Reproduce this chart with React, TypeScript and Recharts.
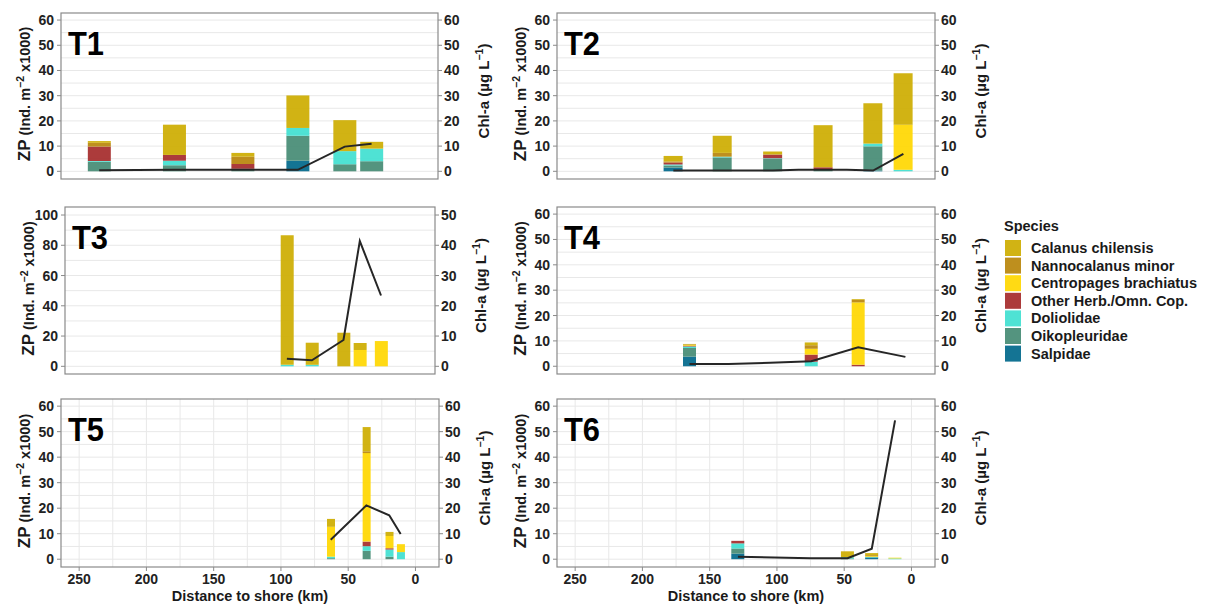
import React from 'react'
import { Bar, CartesianGrid, ComposedChart, Line, XAxis, YAxis } from 'recharts'

// legend order (top of stack first)
const species = ['Calanus chilensis', 'Nannocalanus minor', 'Centropages brachiatus', 'Other Herb./Omn. Cop.', 'Doliolidae', 'Oikopleuridae', 'Salpidae']
const speciesKeys = ['cal', 'nan', 'cen', 'oth', 'dol', 'oik', 'sal']
const speciesColors = ['#CDAD00', '#B8860B', '#FFD700', '#A52A2A', '#40E0D0', '#458B74', '#00688B']

const kmTicks = [0, 50, 100, 150, 200, 250]
const kmGrid = [0, 25, 50, 75, 100, 125, 150, 175, 200, 225, 250]
const zpTicks = [0, 10, 20, 30, 40, 50, 60]
const zpGrid = [0, 5, 10, 15, 20, 25, 30, 35, 40, 45, 50, 55, 60]
const t3ZpTicks = [0, 20, 40, 60, 80, 100]
const t3ZpGrid = [0, 10, 20, 30, 40, 50, 60, 70, 80, 90, 100]
const t3ChlTicks = [0, 10, 20, 30, 40, 50]

// zooplankton per station, columns in legend order: cal, nan, cen, oth, dol, oik, sal
const t1BarKm = [235, 179, 128, 87, 52, 32]
const t1Zp = [
  [0.7, 1.5, 0, 5.7, 0.3, 3.8, 0],
  [12.0, 0, 0, 2.3, 1.8, 2.4, 0],
  [1.5, 2.9, 0, 1.9, 0, 1.0, 0],
  [12.9, 0, 0, 0, 3.1, 9.9, 4.2],
  [12.3, 0, 0, 0, 5.2, 2.8, 0],
  [2.7, 0, 0, 0, 5.0, 4.0, 0],
]
const t1LineKm = [235, 179, 128, 87, 52, 32]
const t1Chl = [0.4, 0.6, 0.6, 0.6, 9.8, 10.9]

const t2BarKm = [177, 140.5, 103, 65.5, 28.5, 6]
const t2Zp = [
  [2.2, 0.4, 0, 0.8, 0.4, 0.8, 1.5],
  [6.8, 1.5, 0, 0, 0.3, 5.5, 0],
  [1.1, 0.2, 0, 1.4, 0.2, 5.0, 0],
  [16.7, 0, 0, 0.8, 0, 0.8, 0],
  [16.0, 0, 0, 0, 1.1, 9.6, 0.3],
  [20.4, 0, 17.9, 0, 0.6, 0, 0],
]
const t2LineKm = [177, 140.5, 103, 84, 65.5, 48, 28.5, 6]
const t2Chl = [0.3, 0.3, 0.3, 0.6, 0.6, 0.6, 0.3, 6.9]

const t3BarKm = [95, 76, 52, 39.6, 23.5]
const t3Zp = [
  [85.6, 0, 0, 0, 1.0, 0, 0],
  [14.6, 0, 0, 0, 1.0, 0, 0],
  [22.2, 0, 0, 0, 0, 0, 0],
  [4.6, 0, 10.8, 0, 0, 0, 0],
  [0, 0, 16.7, 0, 0, 0, 0],
]
const t3LineKm = [95, 76, 52, 39.6, 23.5]
const t3Chl = [2.5, 2.0, 8.7, 41.4, 23.4]

const t4BarKm = [165, 74.5, 39.6]
const t4Zp = [
  [0.2, 0.3, 0.3, 0.2, 0.6, 3.4, 3.8],
  [1.1, 1.4, 2.3, 2.8, 1.8, 0, 0],
  [0.3, 1.0, 24.6, 0.6, 0, 0, 0],
]
const t4LineKm = [165, 136, 105, 74.5, 39.6, 4.5]
const t4Chl = [0.9, 0.9, 1.4, 2.0, 7.5, 3.7]

const t5BarKm = [63, 36.5, 19.5, 11]
const t5Zp = [
  [3.1, 0, 11.7, 0, 0.6, 0.4, 0],
  [9.5, 0.7, 34.7, 1.8, 1.8, 3.3, 0],
  [1.6, 0, 4.8, 0.5, 2.8, 1.0, 0],
  [0, 0, 3.1, 0, 2.8, 0, 0],
]
const t5LineKm = [63, 36.5, 19.5, 11]
const t5Chl = [7.6, 21.1, 17.2, 9.9]

const t6BarKm = [129, 47.5, 29.5, 12.2]
const t6Zp = [
  [0, 0, 0, 1.0, 2.0, 2.0, 2.2],
  [2.3, 0, 0, 0, 0.5, 0.3, 0],
  [0.8, 0.4, 0.3, 0, 0.2, 0, 0.7],
  [0, 0, 0.3, 0, 0.3, 0, 0],
]
const t6LineKm = [129, 102, 75, 47.5, 29.5, 12.2]
const t6Chl = [1.0, 0.65, 0.4, 0.4, 4.1, 54.4]

type Row = { km: number; [k: string]: number }

function buildRows(barKm: number[], zp: number[][], lineKm: number[], chl: number[]) {
  const map = new Map<number, Row>()
  barKm.forEach((km, i) => {
    const r = map.get(km) ?? { km }
    speciesKeys.forEach((k, j) => (r[k] = zp[i][j]))
    map.set(km, r)
  })
  lineKm.forEach((km, i) => {
    const r = map.get(km) ?? { km }
    r.chl = chl[i]
    map.set(km, r)
  })
  return [...map.values()].sort((a, b) => b.km - a.km)
}

const FONT = '"Liberation Sans", Arial, Helvetica, sans-serif'
const AXW = 45
const TOP = 5
const XH = 30
const kmDomain = [-17.5, 263.5]
const stdZp = [-3.05, 62.8]
const tickStyle = { fontSize: 14, fontWeight: 'bold', fill: '#222', fontFamily: FONT }

const panels = [
  { name: 'T1', x: 61, y: 13, w: 377, h: 166, barSize: 23, rows: buildRows(t1BarKm, t1Zp, t1LineKm, t1Chl), zpDomain: stdZp, zpTicks, zpGrid, chlDomain: stdZp, chlTicks: zpTicks, showX: false },
  { name: 'T2', x: 557, y: 13, w: 378, h: 166, barSize: 19, rows: buildRows(t2BarKm, t2Zp, t2LineKm, t2Chl), zpDomain: stdZp, zpTicks, zpGrid, chlDomain: stdZp, chlTicks: zpTicks, showX: false },
  { name: 'T3', x: 65, y: 207, w: 370, h: 167, barSize: 13, rows: buildRows(t3BarKm, t3Zp, t3LineKm, t3Chl), zpDomain: [-5.08, 105.3], zpTicks: t3ZpTicks, zpGrid: t3ZpGrid, chlDomain: [-2.54, 52.65], chlTicks: t3ChlTicks, showX: false },
  { name: 'T4', x: 557, y: 207, w: 378, h: 167, barSize: 13, rows: buildRows(t4BarKm, t4Zp, t4LineKm, t4Chl), zpDomain: stdZp, zpTicks, zpGrid, chlDomain: stdZp, chlTicks: zpTicks, showX: false },
  { name: 'T5', x: 61, y: 399, w: 378, h: 168, barSize: 8, rows: buildRows(t5BarKm, t5Zp, t5LineKm, t5Chl), zpDomain: stdZp, zpTicks, zpGrid, chlDomain: stdZp, chlTicks: zpTicks, showX: true },
  { name: 'T6', x: 557, y: 399, w: 378, h: 168, barSize: 13, rows: buildRows(t6BarKm, t6Zp, t6LineKm, t6Chl), zpDomain: stdZp, zpTicks, zpGrid, chlDomain: stdZp, chlTicks: zpTicks, showX: true },
]

function Panel({ p }: { p: (typeof panels)[number] }) {
  const order = [...speciesKeys.keys()].reverse()
  return (
    <div style={{ position: 'absolute', left: p.x - AXW, top: p.y - TOP }}>
      <ComposedChart width={p.w + 2 * AXW} height={p.h + TOP + XH} data={p.rows} margin={{ top: TOP, right: 0, bottom: 0, left: 0 }}>
        <CartesianGrid stroke="#e8e8e8" horizontalValues={p.zpGrid} verticalValues={kmGrid} />
        <XAxis type="number" dataKey="km" domain={kmDomain} reversed allowDataOverflow ticks={kmTicks} interval={0} height={XH} axisLine={false} tickLine={{ stroke: '#8a8a8a' }} tickSize={4} tickMargin={3} tick={p.showX ? tickStyle : false} />
        <YAxis domain={p.zpDomain} allowDataOverflow ticks={p.zpTicks} interval={0} width={AXW} axisLine={false} tickLine={{ stroke: '#8a8a8a' }} tickSize={4} tickMargin={3} tick={tickStyle} />
        <YAxis yAxisId="chl" orientation="right" domain={p.chlDomain} allowDataOverflow ticks={p.chlTicks} interval={0} width={AXW} axisLine={false} tickLine={{ stroke: '#8a8a8a' }} tickSize={4} tickMargin={2} tick={tickStyle} />
        {order.map((i) => (
          <Bar key={speciesKeys[i]} dataKey={speciesKeys[i]} stackId="s" fill={speciesColors[i]} fillOpacity={0.92} barSize={p.barSize} isAnimationActive={false} />
        ))}
        <Line yAxisId="chl" dataKey="chl" type="linear" stroke="#262626" strokeWidth={2} dot={false} activeDot={false} connectNulls isAnimationActive={false} />
      </ComposedChart>
    </div>
  )
}

function Overlay() {
  const lbl = { fontFamily: FONT, fontWeight: 'bold' as const, fill: '#1a1a1a' }
  return (
    <svg width={1207} height={610} style={{ position: 'absolute', left: 0, top: 0, pointerEvents: 'none' }}>
      {panels.map((p) => {
        const cy = p.y + p.h / 2
        const lx = p.x - 36
        const rx = p.x + p.w + 46
        return (
          <g key={p.name}>
            <rect x={p.x} y={p.y} width={p.w} height={p.h} fill="none" stroke="#8a8a8a" strokeWidth={1.2} />
            <text x={p.x + 7} y={p.y + 42} fontSize={34} textLength={36} lengthAdjust="spacingAndGlyphs" fontFamily={FONT} fontWeight="bold" fill="#000">
              {p.name}
            </text>
            <text transform={`translate(${lx + 5},${cy - 2}) rotate(-90)`} textAnchor="middle" fontSize={14.5} {...lbl}>
              <tspan fontSize={17}>ZP</tspan>
              <tspan> (Ind. m</tspan>
              <tspan fontSize={10.5} dy={-6}>−2</tspan>
              <tspan dy={6}> x1000)</tspan>
            </text>
            <text transform={`translate(${rx + 5},${cy - 5}) rotate(-90)`} textAnchor="middle" fontSize={15} {...lbl}>
              <tspan>Chl-a (µg L</tspan>
              <tspan fontSize={10.5} dy={-6}>−1</tspan>
              <tspan dy={6}>)</tspan>
            </text>
            {p.showX && (
              <text x={p.x + p.w / 2} y={p.y + p.h + 34} textAnchor="middle" fontSize={14.5} {...lbl}>
                Distance to shore (km)
              </text>
            )}
          </g>
        )
      })}
      <text x={1004} y={231} fontSize={14.5} {...lbl}>
        Species
      </text>
      {species.map((s, i) => (
        <g key={s}>
          <rect x={1005} y={240 + i * 17.6} width={16} height={16} fill={speciesColors[i]} fillOpacity={0.92} />
          <text x={1031} y={253 + i * 17.6} fontSize={14.5} {...lbl}>
            {s}
          </text>
        </g>
      ))}
    </svg>
  )
}

export default function App() {
  return (
    <div style={{ position: 'absolute', left: 0, top: 0, width: 1207, height: 610, background: '#fff' }}>
      {panels.map((p) => (
        <Panel key={p.name} p={p} />
      ))}
      <Overlay />
    </div>
  )
}
